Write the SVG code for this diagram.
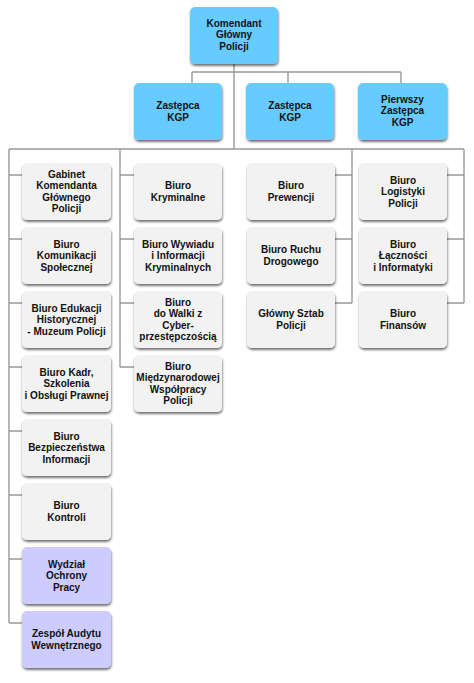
<svg xmlns="http://www.w3.org/2000/svg" width="474" height="683" viewBox="0 0 474 683">
<defs>
<filter id="sh" x="-10%" y="-10%" width="125%" height="130%">
<feDropShadow dx="0.5" dy="2" stdDeviation="1.3" flood-color="#000" flood-opacity="0.55"/>
</filter>
<style>
.b{fill:#66CCFF;filter:url(#sh)}
.g{fill:#F2F2F2;filter:url(#sh)}
.p{fill:#CCCCFF;filter:url(#sh)}
text{font-family:"Liberation Sans",Arial,sans-serif;font-weight:bold;font-size:10px;fill:#111;text-anchor:middle}
.c{fill:none;stroke:#999;stroke-width:1.4}
</style>
</defs>
<rect width="474" height="683" fill="#fff"/>
<g id="connectors" class="c">
<path d="M234 64V149M192 72H401M192 72V83M288 72V83M401 72V83"/>
<path d="M9 149H464"/>
<path d="M9 149V623M9 175H22M9 239H22M9 303H22M9 367H22M9 431H22M9 495H22M9 559H22M9 623H22"/>
<path d="M120 149V367M120 175H134M120 239H134M120 303H134M120 367H134"/>
<path d="M352 149V303M352 175H335M352 239H335M352 303H335"/>
<path d="M464 149V303M464 175H447M464 239H447M464 303H447"/>
</g>
<g id="kgp"><rect class="b" x="190" y="7" width="88" height="57" rx="5"/><text x="234" y="26.5"><tspan x="234">Komendant</tspan><tspan x="234" dy="11.5">Główny</tspan><tspan x="234" dy="11.5">Policji</tspan></text></g>
<g id="zastepca1"><rect class="b" x="134" y="83" width="88" height="57" rx="5"/><text x="178" y="109.25"><tspan x="178">Zastępca</tspan><tspan x="178" dy="11.5">KGP</tspan></text></g>
<g id="zastepca2"><rect class="b" x="246" y="83" width="88" height="57" rx="5"/><text x="290" y="109.25"><tspan x="290">Zastępca</tspan><tspan x="290" dy="11.5">KGP</tspan></text></g>
<g id="pierwszy"><rect class="b" x="358" y="83" width="89" height="57" rx="5"/><text x="402.5" y="102.5"><tspan x="402.5">Pierwszy</tspan><tspan x="402.5" dy="11.5">Zastępca</tspan><tspan x="402.5" dy="11.5">KGP</tspan></text></g>

<g id="gabinet"><rect class="g" x="22" y="163" width="89" height="57" rx="5"/><text x="66.5" y="177.75"><tspan x="66.5">Gabinet</tspan><tspan x="66.5" dy="11.5">Komendanta</tspan><tspan x="66.5" dy="11.5">Głównego</tspan><tspan x="66.5" dy="11.5">Policji</tspan></text></g>
<g id="komunikacja"><rect class="g" x="22" y="227" width="89" height="57" rx="5"/><text x="66.5" y="247.5"><tspan x="66.5">Biuro</tspan><tspan x="66.5" dy="11.5">Komunikacji</tspan><tspan x="66.5" dy="11.5">Społecznej</tspan></text></g>
<g id="edukacja"><rect class="g" x="22" y="291" width="89" height="57" rx="5"/><text x="66.5" y="311.5"><tspan x="66.5">Biuro Edukacji</tspan><tspan x="66.5" dy="11.5">Historycznej</tspan><tspan x="66.5" dy="11.5">- Muzeum Policji</tspan></text></g>
<g id="kadry"><rect class="g" x="22" y="355" width="89" height="57" rx="5"/><text x="66.5" y="375.5"><tspan x="66.5">Biuro Kadr,</tspan><tspan x="66.5" dy="11.5">Szkolenia</tspan><tspan x="66.5" dy="11.5">i Obsługi Prawnej</tspan></text></g>
<g id="bezpieczenstwo"><rect class="g" x="22" y="419" width="89" height="57" rx="5"/><text x="66.5" y="439.5"><tspan x="66.5">Biuro</tspan><tspan x="66.5" dy="11.5">Bezpieczeństwa</tspan><tspan x="66.5" dy="11.5">Informacji</tspan></text></g>
<g id="kontrola"><rect class="g" x="22" y="483" width="89" height="57" rx="5"/><text x="66.5" y="509.25"><tspan x="66.5">Biuro</tspan><tspan x="66.5" dy="11.5">Kontroli</tspan></text></g>
<g id="wydzial"><rect class="p" x="22" y="547" width="89" height="57" rx="5"/><text x="66.5" y="567.5"><tspan x="66.5">Wydział</tspan><tspan x="66.5" dy="11.5">Ochrony</tspan><tspan x="66.5" dy="11.5">Pracy</tspan></text></g>
<g id="audyt"><rect class="p" x="22" y="611" width="89" height="57" rx="5"/><text x="66.5" y="637.25"><tspan x="66.5">Zespół Audytu</tspan><tspan x="66.5" dy="11.5">Wewnętrznego</tspan></text></g>

<g id="kryminalne"><rect class="g" x="134" y="163" width="88" height="57" rx="5"/><text x="178" y="189.25"><tspan x="178">Biuro</tspan><tspan x="178" dy="11.5">Kryminalne</tspan></text></g>
<g id="wywiad"><rect class="g" x="134" y="227" width="88" height="57" rx="5"/><text x="178" y="247.5"><tspan x="178">Biuro Wywiadu</tspan><tspan x="178" dy="11.5">i Informacji</tspan><tspan x="178" dy="11.5">Kryminalnych</tspan></text></g>
<g id="cyber"><rect class="g" x="134" y="291" width="88" height="57" rx="5"/><text x="178" y="305.75"><tspan x="178">Biuro</tspan><tspan x="178" dy="11.5">do Walki z</tspan><tspan x="178" dy="11.5">Cyber-</tspan><tspan x="178" dy="11.5">przestępczością</tspan></text></g>
<g id="miedzynarodowe"><rect class="g" x="134" y="355" width="88" height="57" rx="5"/><text x="178" y="369.75"><tspan x="178">Biuro</tspan><tspan x="178" dy="11.5">Międzynarodowej</tspan><tspan x="178" dy="11.5">Współpracy</tspan><tspan x="178" dy="11.5">Policji</tspan></text></g>

<g id="prewencja"><rect class="g" x="247" y="163" width="88" height="57" rx="5"/><text x="291" y="189.25"><tspan x="291">Biuro</tspan><tspan x="291" dy="11.5">Prewencji</tspan></text></g>
<g id="ruch"><rect class="g" x="247" y="227" width="88" height="57" rx="5"/><text x="291" y="253.25"><tspan x="291">Biuro Ruchu</tspan><tspan x="291" dy="11.5">Drogowego</tspan></text></g>
<g id="sztab"><rect class="g" x="247" y="291" width="88" height="57" rx="5"/><text x="291" y="317.25"><tspan x="291">Główny Sztab</tspan><tspan x="291" dy="11.5">Policji</tspan></text></g>

<g id="logistyka"><rect class="g" x="359" y="163" width="88" height="57" rx="5"/><text x="403" y="183.5"><tspan x="403">Biuro</tspan><tspan x="403" dy="11.5">Logistyki</tspan><tspan x="403" dy="11.5">Policji</tspan></text></g>
<g id="lacznosc"><rect class="g" x="359" y="227" width="88" height="57" rx="5"/><text x="403" y="247.5"><tspan x="403">Biuro</tspan><tspan x="403" dy="11.5">Łączności</tspan><tspan x="403" dy="11.5">i Informatyki</tspan></text></g>
<g id="finanse"><rect class="g" x="359" y="291" width="88" height="57" rx="5"/><text x="403" y="317.25"><tspan x="403">Biuro</tspan><tspan x="403" dy="11.5">Finansów</tspan></text></g>
</svg>
